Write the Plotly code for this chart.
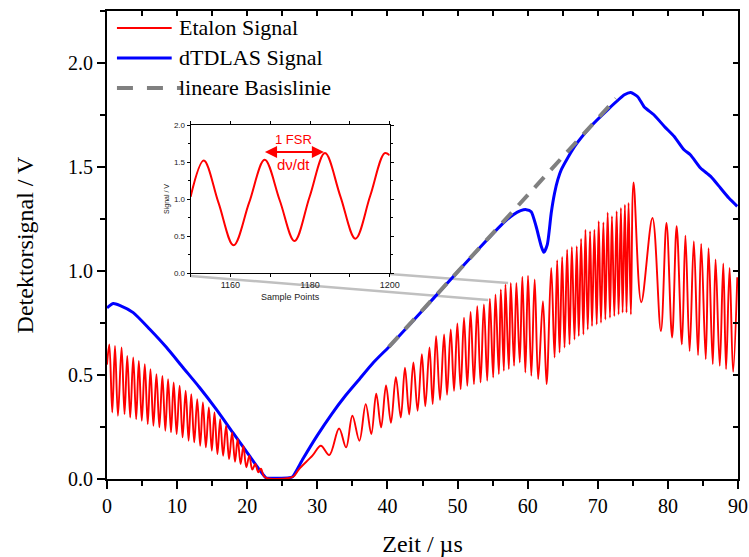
import plotly.graph_objects as go

# ---------------- data ----------------
# Etalon signal: extrema / shape points (time in µs, signal in V)
etalon_t = [0.0,
    0.33, 0.75, 1.14, 1.56, 2.08, 2.50, 2.89, 3.31, 3.74, 4.16, 4.54, 4.96, 5.39, 5.81,
    6.20, 6.62, 7.05, 7.47, 7.90, 8.32, 8.71, 9.13, 9.51, 9.93, 10.36, 10.78, 11.22, 11.64,
    12.02, 12.44, 12.87, 13.29, 13.68, 14.10, 14.53, 14.95, 15.33, 15.75, 16.14, 16.56,
    16.99, 17.41, 17.84, 18.26, 18.64, 19.06, 19.45, 19.87, 20.30, 20.72, 21.15, 21.57,
    21.95, 22.35, 22.80, 25.80, 26.60, 27.40, 29.30,
    30.5, 31.7, 33.1, 34.1, 35.0, 36.0, 36.9, 37.7, 38.4, 39.1, 39.8, 40.5, 41.2, 41.9,
    42.5, 43.1, 43.7, 44.3, 44.91, 45.4, 46.0, 46.45, 46.94, 47.5, 48.08, 48.5, 49.03, 49.5,
    49.97, 50.44, 50.92, 51.39, 51.86, 52.34, 52.81, 53.28, 53.76, 54.23, 54.61, 55.08,
    55.41, 55.89, 56.17, 56.6, 56.83, 57.31, 57.59, 58.06, 58.39, 58.87, 59.24, 59.67,
    60.05, 60.52, 61.0, 61.5, 62.18, 62.7, 63.36, 63.84, 64.21, 64.55, 64.92, 65.26,
    65.63, 65.97, 66.3, 66.68, 67.0, 67.29, 67.62, 67.95, 68.24, 68.57, 68.9, 69.18,
    69.52, 69.85, 70.13, 70.46, 70.8, 71.08, 71.41, 71.74, 72.02, 72.36, 72.69, 72.97,
    73.3, 73.54, 73.87, 74.1, 74.39, 74.72, 75.1, 76.2, 77.8, 79.0, 79.8, 80.6, 81.25,
    82.0, 82.5, 83.1, 83.7, 84.3, 84.75, 85.4, 85.8, 86.4, 86.8, 87.4, 87.9, 88.3, 88.8,
    89.3, 89.9]
etalon_v = [0.55,
    0.647, 0.320, 0.640, 0.304, 0.632, 0.312, 0.592, 0.296, 0.584, 0.288, 0.568, 0.280,
    0.552, 0.264, 0.528, 0.256, 0.504, 0.248, 0.496, 0.232, 0.480, 0.224, 0.464, 0.216,
    0.448, 0.200, 0.424, 0.184, 0.408, 0.176, 0.384, 0.160, 0.368, 0.152, 0.344, 0.136,
    0.320, 0.120, 0.288, 0.112, 0.256, 0.096, 0.224, 0.083, 0.192, 0.072, 0.160, 0.056,
    0.112, 0.045, 0.072, 0.032,
    0.050, 0.015, 0.004, 0.004, 0.012, 0.048, 0.112,
    0.160, 0.115, 0.243, 0.152, 0.304, 0.184, 0.360, 0.216, 0.410, 0.248, 0.450, 0.270,
    0.490, 0.296, 0.535, 0.310, 0.560, 0.328, 0.600, 0.350, 0.632, 0.360, 0.687, 0.380,
    0.695, 0.405, 0.719, 0.424, 0.748, 0.432, 0.775, 0.448, 0.803, 0.456, 0.831, 0.464,
    0.839, 0.472, 0.867, 0.488, 0.887, 0.504, 0.911, 0.520, 0.935, 0.528, 0.943, 0.544,
    0.943, 0.560, 0.972, 0.512, 0.978, 0.496, 0.959, 0.480, 0.855, 0.456, 1.015, 0.584,
    1.052, 0.608, 1.068, 0.632, 1.103, 0.647, 1.116, 0.671, 1.119, 0.687, 1.154, 0.695,
    1.199, 0.719, 1.191, 0.735, 1.199, 0.743, 1.239, 0.751, 1.234, 0.767, 1.282, 0.775,
    1.263, 0.783, 1.287, 0.791, 1.303, 0.800, 1.319, 0.800, 1.327, 0.791, 1.426, 0.850,
    1.255, 0.711, 1.231, 0.680, 1.215, 0.647, 1.170, 0.615, 1.143, 0.595, 1.130, 0.576,
    1.110, 0.552, 1.055, 0.544, 1.036, 0.528, 1.015, 0.515, 0.970]

# dTDLAS signal
tdlas_t = [0.0, 0.9, 1.8, 3.74, 6.1, 8.5, 10.84, 13.2, 15.57, 17.93, 20.3, 22.2, 22.67,
           26.0, 26.45, 28.0, 30.0, 32.0, 34.0, 36.0, 38.0, 40.2, 43.5, 46.5, 49.5, 53.0,
           56.5, 58.0, 59.0, 59.8, 60.5, 61.2, 61.94, 62.3, 62.8, 63.36, 63.84, 64.3, 64.8,
           66.7, 69.0, 71.4, 73.8, 74.7, 75.7, 76.6, 78.0, 79.5, 80.9, 82.3, 83.2, 84.65,
           86.1, 87.5, 88.7, 89.9]
tdlas_v = [0.823, 0.844, 0.835, 0.800, 0.720, 0.632, 0.536, 0.440, 0.336, 0.224, 0.112,
           0.024, 0.006, 0.006, 0.010, 0.100, 0.210, 0.310, 0.400, 0.480, 0.560, 0.635,
           0.755, 0.866, 0.977, 1.106, 1.230, 1.272, 1.290, 1.295, 1.285, 1.215, 1.119,
           1.090, 1.127, 1.279, 1.375, 1.439, 1.487, 1.599, 1.695, 1.775, 1.847, 1.858,
           1.838, 1.790, 1.751, 1.695, 1.647, 1.583, 1.559, 1.495, 1.455, 1.399, 1.351,
           1.311]

# linear baseline (end points)
base_t = [40.2, 72.6]
base_v = [0.635, 1.829]

# inset: etalon signal vs. sample points
inset_samples = [1150, 1153.3, 1157.0, 1160.8, 1164.7, 1168.6, 1172.4, 1176.1, 1179.9,
                 1183.75, 1187.6, 1191.4, 1195.1, 1198.75, 1200]
inset_values = [1.03, 1.52, 0.95, 0.374, 0.95, 1.53, 0.98, 0.432, 1.03, 1.62, 1.04,
                0.464, 1.04, 1.62, 1.59]
fsr_start, fsr_end, fsr_level = 1168.3, 1183.5, 1.635

x_ticks = [0, 10, 20, 30, 40, 50, 60, 70, 80, 90]
y_ticks = [0.0, 0.5, 1.0, 1.5, 2.0]
inset_x_ticks = [1160, 1180, 1200]
inset_y_ticks = [0.0, 0.5, 1.0, 1.5, 2.0]

legend_names = ["Etalon Signal", "dTDLAS Signal", "lineare Basislinie"]

# ---------------- figure ----------------
SERIF = "Liberation Serif"
SANS = "Liberation Sans"

fig = go.Figure()

fig.add_trace(go.Scatter(x=tdlas_t, y=tdlas_v, mode="lines", name=legend_names[1],
                         line=dict(color="#0000ff", width=3, shape="spline", smoothing=0.6,
                                   simplify=False),
                         showlegend=False))
fig.add_trace(go.Scatter(x=base_t, y=base_v, mode="lines", name=legend_names[2],
                         line=dict(color="#808080", width=4, dash="14px,10px"),
                         showlegend=False))
fig.add_trace(go.Scatter(x=etalon_t, y=etalon_v, mode="lines", name=legend_names[0],
                         line=dict(color="#ff0000", width=1.9, shape="spline", smoothing=1,
                                   simplify=False),
                         showlegend=False))
# helper trace for the mirrored (top / right) axes
fig.add_trace(go.Scatter(x=[None], y=[None], xaxis="x2", yaxis="y2", showlegend=False,
                         hoverinfo="skip"))
# inset
fig.add_trace(go.Scatter(x=inset_samples, y=inset_values, mode="lines", xaxis="x3",
                         yaxis="y3", line=dict(color="#ff0000", width=2, shape="spline",
                                               smoothing=1, simplify=False),
                         showlegend=False))

W, H = 749, 557
L, R, T, B = 107, 11, 11, 78
pw, ph = W - L - R, H - T - B


def px2paper_x(px):
    # pixel positions measured on the reference (plot right edge there at 741)
    return (px - L) / (741 - L)


def px2paper_y(py):
    return (H - B - py) / ph


axis_common = dict(showgrid=False, zeroline=False, showline=True, linecolor="black",
                   linewidth=2, automargin=False)

fig.update_layout(
    width=W, height=H,
    margin=dict(l=L, r=R, t=T, b=B),
    paper_bgcolor="white", plot_bgcolor="white",
    font=dict(family=SERIF, color="black"),
    xaxis=dict(range=[0, 90], tickvals=x_ticks, ticks="outside", ticklen=8, tickwidth=1.5,
               tickcolor="black", tickfont=dict(size=20, family=SERIF),
               ticklabeloverflow="allow",
               minor=dict(dtick=5, tick0=0, ticks="outside", ticklen=5, tickwidth=1.5,
                          tickcolor="black"),
               title=dict(text="Zeit / µs", font=dict(size=24, family=SERIF), standoff=22),
               **axis_common),
    yaxis=dict(range=[0, 2.25], tickvals=y_ticks, tickformat=".1f", ticks="outside",
               ticklen=8, tickwidth=1.5, tickcolor="black",
               tickfont=dict(size=20, family=SERIF), ticklabeloverflow="allow",
               minor=dict(dtick=0.25, tick0=0, ticks="outside", ticklen=5, tickwidth=1.5,
                          tickcolor="black"),
               title=dict(text="Detektorsignal / V", font=dict(size=24, family=SERIF),
                          standoff=28),
               **axis_common),
    xaxis2=dict(range=[0, 90], overlaying="x", side="top", anchor="y2", dtick=5, tick0=0,
                ticks="inside", ticklen=5, tickwidth=1.5, tickcolor="black",
                showticklabels=False, **axis_common),
    yaxis2=dict(range=[0, 2.25], overlaying="y", side="right", anchor="x2", dtick=0.25,
                tick0=0, ticks="inside", ticklen=5, tickwidth=1.5, tickcolor="black",
                showticklabels=False, **axis_common),
    xaxis3=dict(domain=[px2paper_x(191), px2paper_x(391)], anchor="y3", range=[1150, 1200],
                tickvals=inset_x_ticks, ticks="outside", ticklen=3, tickwidth=1,
                tickcolor="black", mirror="ticks", tickfont=dict(size=9, family=SANS, color="#222"),
                minor=dict(dtick=10, tick0=1150, ticks="outside", ticklen=3, tickwidth=1,
                           tickcolor="black"),
                title=dict(text="Sample Points", font=dict(size=9, family=SANS, color="#222"),
                           standoff=4),
                showgrid=False, zeroline=False, showline=True, linecolor="black",
                linewidth=1, automargin=False),
    yaxis3=dict(domain=[px2paper_y(273), px2paper_y(125)], anchor="x3", range=[0, 2.0],
                tickvals=inset_y_ticks, tickformat=".1f", ticks="outside", ticklen=3,
                tickwidth=1, tickcolor="black", mirror="ticks",
                tickfont=dict(size=8, family=SANS, color="#222"),
                minor=dict(dtick=0.25, tick0=0, ticks="outside", ticklen=2, tickwidth=1,
                           tickcolor="black"),
                title=dict(text="Signal / V", font=dict(size=7, family=SANS, color="#222"),
                           standoff=3),
                showgrid=False, zeroline=False, showline=True, linecolor="black",
                linewidth=1, automargin=False),
)

# connector lines from the inset to the zoomed region
conn_color = "#c0c0c0"
fig.add_shape(type="line", xref="paper", yref="paper", layer="below",
              x0=px2paper_x(191), y0=px2paper_y(276), x1=px2paper_x(490), y1=px2paper_y(300),
              line=dict(color=conn_color, width=2.5))
fig.add_shape(type="line", xref="paper", yref="paper", layer="below",
              x0=px2paper_x(391), y0=px2paper_y(274), x1=px2paper_x(510), y1=px2paper_y(283),
              line=dict(color=conn_color, width=2.5))

# FSR arrow and labels in the inset
fig.add_annotation(x=fsr_end, y=fsr_level, ax=fsr_start, ay=fsr_level, xref="x3", yref="y3",
                   axref="x3", ayref="y3", text="", showarrow=True, arrowside="end+start",
                   arrowhead=2, arrowsize=1.1, arrowwidth=2.2, arrowcolor="#ff0000")
fig.add_annotation(x=(fsr_start + fsr_end) / 2, y=1.80, xref="x3", yref="y3", text="1 FSR",
                   showarrow=False, font=dict(size=13, family=SANS, color="#ff0000"))
fig.add_annotation(x=(fsr_start + fsr_end) / 2, y=1.46, xref="x3", yref="y3", text="dν/dt",
                   showarrow=False, font=dict(size=15, family=SANS, color="#ff0000"))

# manual legend (upper left)
legend_rows = [28, 58, 88]
legend_styles = [dict(color="#ff0000", width=2),
                 dict(color="#0000ff", width=3),
                 dict(color="#808080", width=4, dash="16px,14px")]
legend_ends = [172, 172, 182]
for name, row, style, xend in zip(legend_names, legend_rows, legend_styles, legend_ends):
    fig.add_shape(type="line", xref="paper", yref="paper",
                  x0=px2paper_x(117), x1=px2paper_x(xend),
                  y0=px2paper_y(row), y1=px2paper_y(row), line=style)
    fig.add_annotation(x=px2paper_x(177), y=px2paper_y(row), xref="paper", yref="paper",
                       text=name, showarrow=False, xanchor="left", yanchor="middle",
                       font=dict(size=22, family=SERIF, color="black"))

fig.write_html("out.html")
